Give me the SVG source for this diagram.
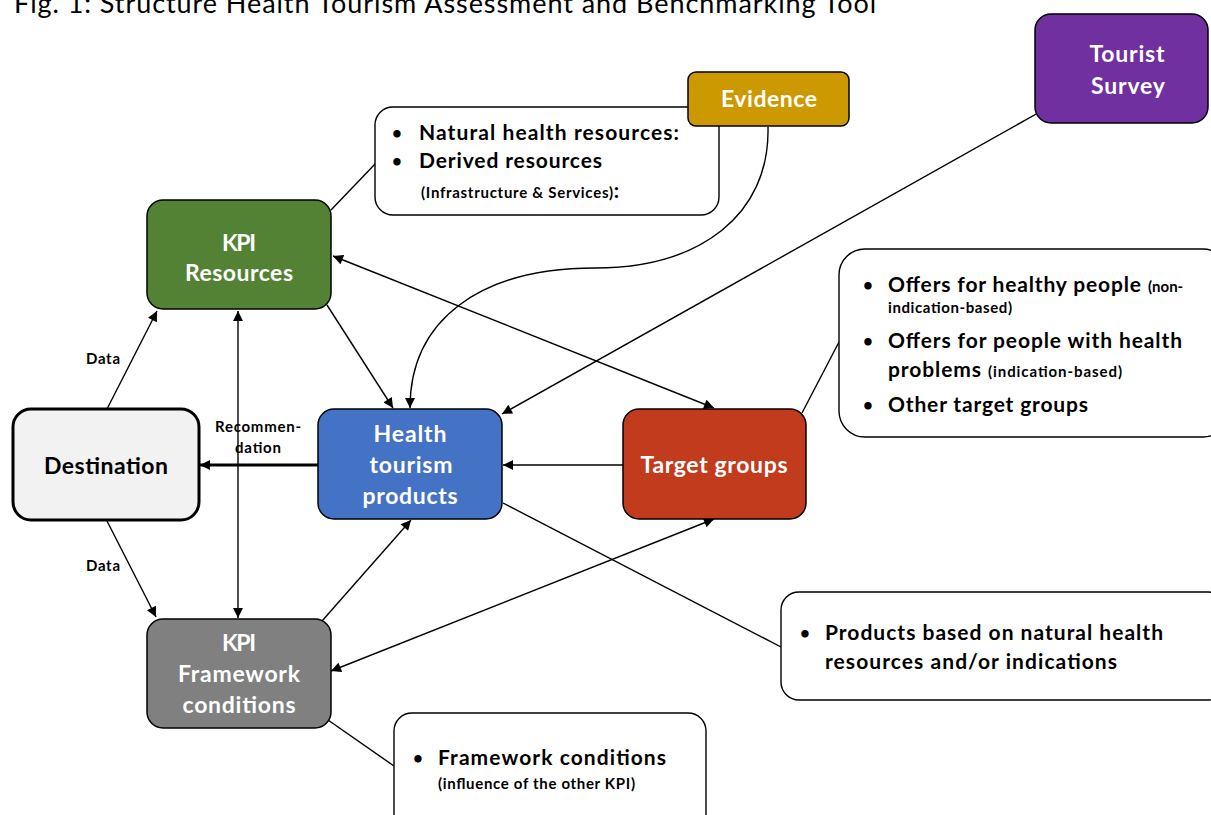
<svg xmlns="http://www.w3.org/2000/svg" width="1211" height="815" viewBox="0 0 1211 815">
<style>
text{font-family:Lato,"Liberation Sans",sans-serif;font-weight:bold;}
.nl{fill:#fff;font-size:23px;text-anchor:middle;}
.cb{font-size:21px;fill:#000;}
.bu{font-size:17px;fill:#000;}
.cs{font-size:15px;fill:#000;}
.lbl{font-size:15px;fill:#000;text-anchor:middle;}
.node{stroke:#000;stroke-width:1.5;}
.call{fill:#fff;stroke:#000;stroke-width:1.4;}
.c{fill:none;stroke:#000;stroke-width:1.4;}
.title{font-weight:normal;font-size:27px;fill:#000;}
</style>
<defs>
<marker id="ah" viewBox="0 0 10 10" refX="10" refY="5" markerWidth="11" markerHeight="10" markerUnits="userSpaceOnUse" orient="auto-start-reverse">
<path d="M0,0 L10,5 L0,10 z" fill="#000"/>
</marker>
</defs>
<rect width="1211" height="815" fill="#fff"/>
<text class="title" x="14" y="13" textLength="862" lengthAdjust="spacing">Fig. 1: Structure Health Tourism Assessment and Benchmarking Tool</text>

<g id="connectors">
<line class="c" x1="331" y1="210" x2="376" y2="163"/>
<path class="c" d="M768,127 C770,215 700,268 595,268 C480,268 410,320 410,408" marker-end="url(#ah)"/>
<line class="c" x1="1038" y1="113" x2="502" y2="414" marker-end="url(#ah)"/>
<line class="c" x1="333" y1="256" x2="714" y2="408" marker-start="url(#ah)" marker-end="url(#ah)"/>
<line class="c" x1="327" y1="305" x2="393" y2="408" marker-end="url(#ah)"/>
<line class="c" x1="107" y1="409" x2="157" y2="311" marker-end="url(#ah)"/>
<line class="c" x1="238" y1="311" x2="238" y2="618" marker-start="url(#ah)" marker-end="url(#ah)"/>
<line class="c" x1="107" y1="521" x2="156" y2="617" marker-end="url(#ah)"/>
<line x1="318" y1="465" x2="200" y2="465" stroke="#000" stroke-width="3" marker-end="url(#ah)"/>
<line class="c" x1="623" y1="465" x2="503" y2="465" marker-end="url(#ah)"/>
<line class="c" x1="322" y1="621" x2="411" y2="520" marker-end="url(#ah)"/>
<line class="c" x1="331" y1="671" x2="714" y2="519" marker-start="url(#ah)" marker-end="url(#ah)"/>
<line class="c" x1="503" y1="503" x2="781" y2="647"/>
<line class="c" x1="802" y1="413" x2="839" y2="342"/>
<line class="c" x1="328" y1="720" x2="394" y2="766"/>
<text class="lbl" x="103" y="364" textLength="34" lengthAdjust="spacing">Data</text>
<text class="lbl" x="103" y="571" textLength="34" lengthAdjust="spacing">Data</text>
<text class="lbl" x="258" y="432" textLength="86" lengthAdjust="spacing">Recommen-</text>
<text class="lbl" x="258" y="453" textLength="46" lengthAdjust="spacing">dation</text>
</g>

<g id="resources-callout">
<rect class="call" x="375" y="107" width="344" height="108" rx="18"/>
<text class="bu" x="392" y="139">•</text>
<text class="cb" x="419" y="140" textLength="260" lengthAdjust="spacing">Natural health resources:</text>
<text class="bu" x="392" y="167">•</text>
<text class="cb" x="419" y="168" textLength="183" lengthAdjust="spacing">Derived resources</text>
<text class="cs" x="421" y="198"><tspan textLength="192" lengthAdjust="spacing">(Infrastructure &amp; Services)</tspan><tspan font-size="21">:</tspan></text>
</g>

<g id="evidence">
<rect class="node" x="688" y="72" width="161" height="54" rx="8" fill="#CC9900"/>
<text class="nl" x="769" y="107" textLength="96" lengthAdjust="spacing">Evidence</text>
</g>

<g id="tourist-survey">
<rect class="node" x="1035" y="14" width="173" height="109" rx="16" fill="#7030A0"/>
<text class="nl" x="1127" y="62" textLength="75" lengthAdjust="spacing">Tourist</text>
<text class="nl" x="1128" y="94" textLength="74" lengthAdjust="spacing">Survey</text>
</g>

<g id="kpi-resources">
<rect class="node" x="147" y="200" width="184" height="109" rx="16" fill="#548235"/>
<text class="nl" x="239" y="251" textLength="34" lengthAdjust="spacing">KPI</text>
<text class="nl" x="239" y="281" textLength="108" lengthAdjust="spacing">Resources</text>
</g>

<g id="destination">
<rect x="13" y="409" width="186" height="111" rx="18" fill="#F2F2F2" stroke="#000" stroke-width="3"/>
<text x="106" y="474" font-size="23" text-anchor="middle" fill="#000" textLength="124" lengthAdjust="spacing">Destination</text>
</g>

<g id="health-products">
<rect class="node" x="318" y="409" width="184" height="110" rx="16" fill="#4472C4"/>
<text class="nl" x="410" y="442" textLength="73" lengthAdjust="spacing">Health</text>
<text class="nl" x="411" y="473" textLength="83" lengthAdjust="spacing">tourism</text>
<text class="nl" x="410" y="504" textLength="95" lengthAdjust="spacing">products</text>
</g>

<g id="target-groups">
<rect class="node" x="623" y="409" width="183" height="110" rx="16" fill="#C23B1C"/>
<text class="nl" x="714" y="473" textLength="147" lengthAdjust="spacing">Target groups</text>
</g>

<g id="target-callout">
<rect class="call" x="839" y="249" width="390" height="188" rx="26"/>
<text class="bu" x="863" y="291">•</text>
<text class="cb" x="888" y="292"><tspan textLength="253" lengthAdjust="spacing">Offers for healthy people</tspan><tspan font-size="15" x="1148">(non-</tspan></text>
<text class="cs" x="888" y="313" textLength="124" lengthAdjust="spacing">indication-based)</text>
<text class="bu" x="863" y="347">•</text>
<text class="cb" x="888" y="348" textLength="294" lengthAdjust="spacing">Offers for people with health</text>
<text class="cb" x="888" y="377"><tspan textLength="93" lengthAdjust="spacing">problems</tspan><tspan font-size="15" x="988" textLength="134" lengthAdjust="spacing">(indication-based)</tspan></text>
<text class="bu" x="863" y="411">•</text>
<text class="cb" x="888" y="412" textLength="200" lengthAdjust="spacing">Other target groups</text>
</g>

<g id="kpi-framework">
<rect class="node" x="147" y="619" width="184" height="109" rx="16" fill="#808080"/>
<text class="nl" x="239" y="651" textLength="34" lengthAdjust="spacing">KPI</text>
<text class="nl" x="239" y="682" textLength="122" lengthAdjust="spacing">Framework</text>
<text class="nl" x="239" y="713" textLength="113" lengthAdjust="spacing">conditions</text>
</g>

<g id="products-callout">
<rect class="call" x="781" y="592" width="445" height="108" rx="18"/>
<text class="bu" x="800" y="639">•</text>
<text class="cb" x="825" y="640" textLength="338" lengthAdjust="spacing">Products based on natural health</text>
<text class="cb" x="825" y="669" textLength="292" lengthAdjust="spacing">resources and/or indications</text>
</g>

<g id="framework-callout">
<rect class="call" x="394" y="713" width="312" height="120" rx="18"/>
<text class="bu" x="413" y="764">•</text>
<text class="cb" x="438" y="765" textLength="228" lengthAdjust="spacing">Framework conditions</text>
<text class="cs" x="438" y="789" textLength="197" lengthAdjust="spacing">(influence of the other KPI)</text>
</g>
</svg>
